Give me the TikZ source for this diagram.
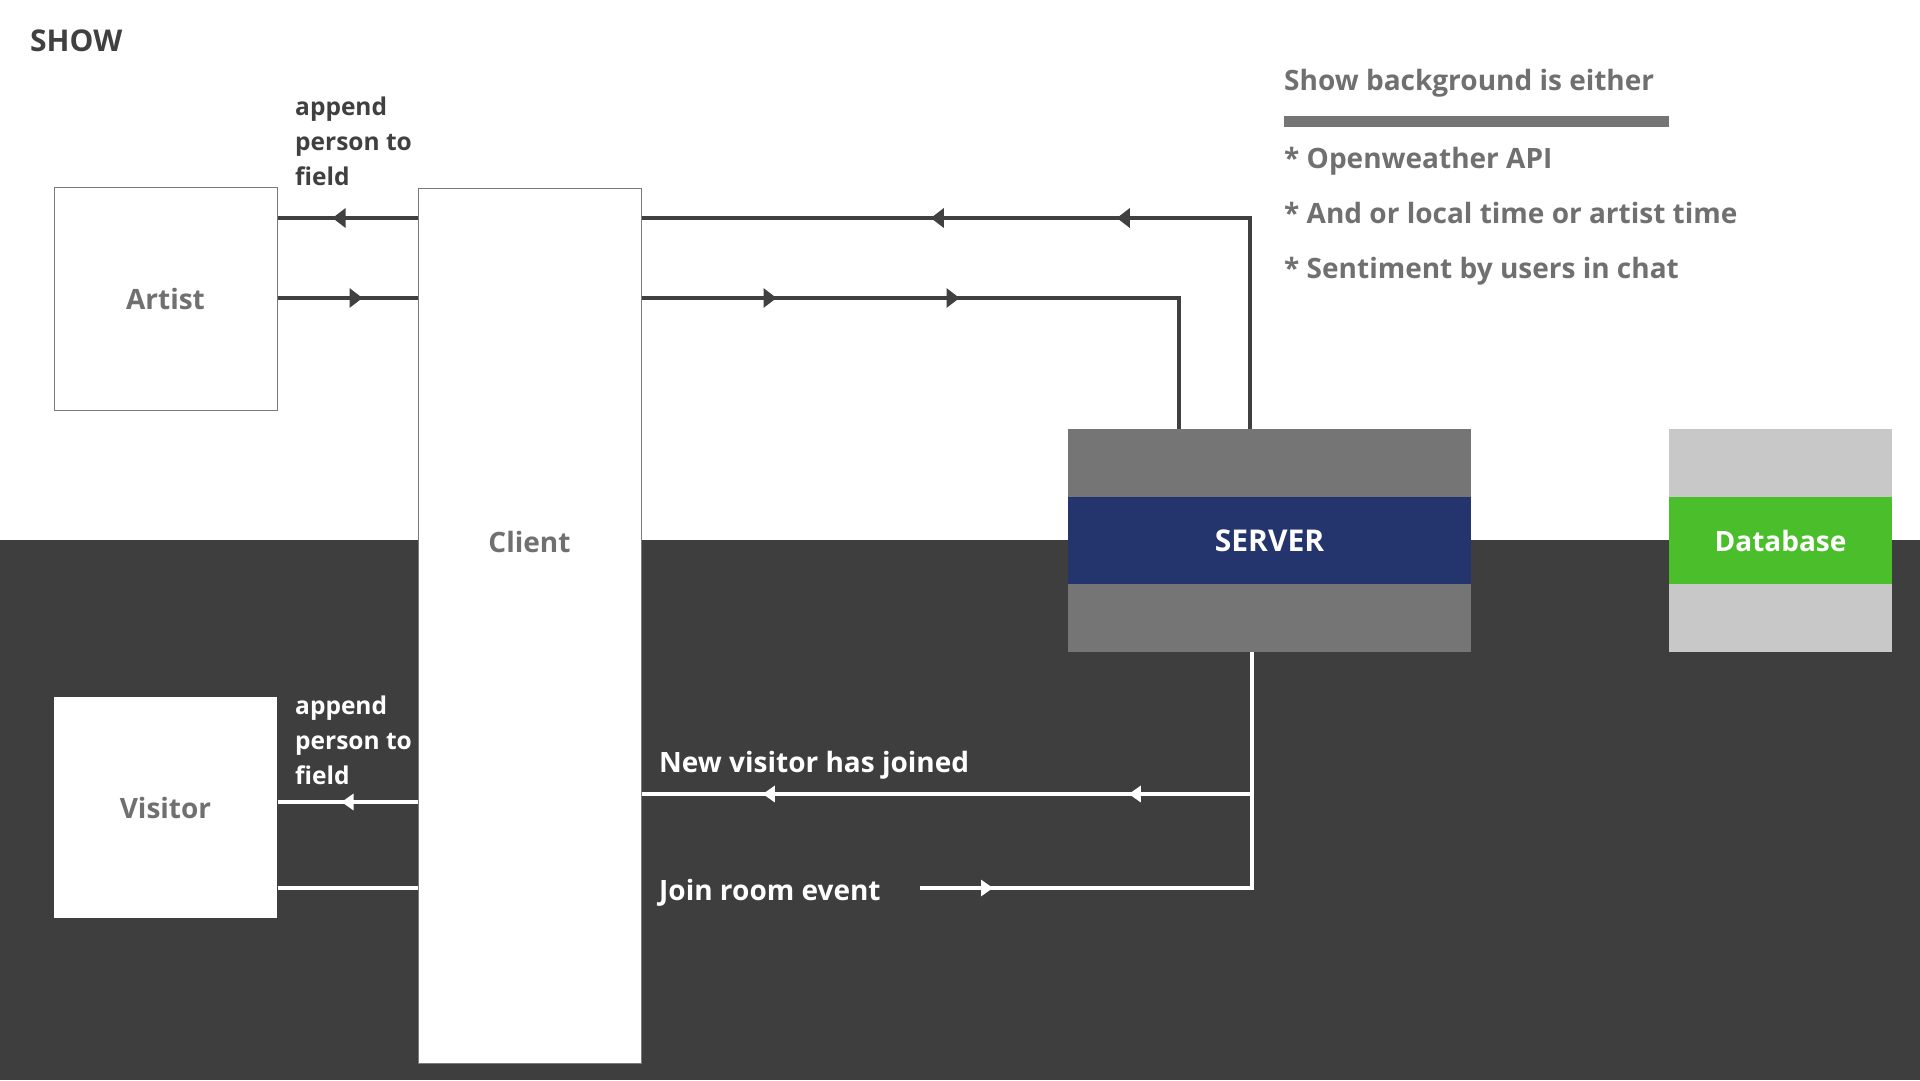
\documentclass[tikz,border=0pt]{standalone}
\usepackage{fontspec}
\setmainfont{Open Sans}
\usetikzlibrary{arrows.meta,decorations.markings,positioning}

\definecolor{bandgray}{HTML}{3E3E3E}
\definecolor{linegray}{HTML}{404040}
\definecolor{txtgray}{HTML}{707070}
\definecolor{srvgray}{HTML}{757575}
\definecolor{srvnavy}{HTML}{24356E}
\definecolor{dbgray}{HTML}{C8C8C8}
\definecolor{dbgreen}{HTML}{4BBF2B}
\definecolor{boxline}{HTML}{7A7A7A}

\begin{document}
\begin{tikzpicture}[x=1pt,y=-1pt,
   font=\bfseries\fontsize{28}{34}\selectfont,
   box/.style={draw=boxline,line width=1pt,fill=white,minimum width=223pt,minimum height=223pt,inner sep=0pt,text=txtgray},
   dk/.style={draw=linegray,line width=3.5pt},
   wt/.style={draw=white,line width=3.5pt},
   darr/.style={postaction={decorate,decoration={markings,mark=at position #1 with {\arrow[linegray]{Triangle[length=13pt,width=19pt]}}}}},
   warr/.style={postaction={decorate,decoration={markings,mark=at position #1 with {\arrow[white]{Triangle[length=12pt,width=16pt]}}}}},
   big/.style={font=\bfseries\fontsize{30}{34}\selectfont},
   small/.style={font=\bfseries\fontsize{24.5}{35}\selectfont,anchor=north west,align=left,inner sep=0pt},
   side/.style={font=\bfseries\fontsize{28}{34}\selectfont,text=txtgray,anchor=base west,inner sep=0pt}]
   \useasboundingbox (0,0) rectangle (1920,1080);
   \fill[white] (0,0) rectangle (1920,540);
   \fill[bandgray] (0,540) rectangle (1920,1080);

   \node (artist) [box] at (165.5,298.5) {Artist};
   \node (client) [box,minimum height=875pt] at (529.5,625.5) {};
   \node (clientlbl) [text=txtgray] at (529.5,542) {Client};
   \node (visitor) [box,draw=none,minimum height=221pt] at (165.5,807.5) {Visitor};

   \node (server) [fill=srvgray,minimum width=403pt,minimum height=223pt,inner sep=0pt] at (1269.5,540.5) {};
   \node (srvband) [fill=srvnavy,minimum width=403pt,minimum height=87pt,inner sep=0pt,text=white,big] at (server) {SERVER};
   \node (db) [fill=dbgray,minimum width=223pt,minimum height=223pt,inner sep=0pt] at (1780.5,540.5) {};
   \node (dbband) [fill=dbgreen,minimum width=223pt,minimum height=87pt,inner sep=0pt,text=white] at (db) {Database};

   \coordinate (ya) at (0,218);
   \coordinate (yb) at (0,298);
   \coordinate (yc) at (0,794);
   \coordinate (yd) at (0,802);
   \coordinate (ye) at (0,888);
   \coordinate (xa) at (1250,0);
   \coordinate (xb) at (1179,0);
   \coordinate (xc) at (1252,0);
   \coordinate (joinstart) at (920,888);

   \draw[dk,darr=85pt] (client.west |- ya) -- (artist.east |- ya);
   \draw[dk,darr=85pt] (artist.east |- yb) -- (client.west |- yb);
   \draw[dk,darr=344pt,darr=530pt] (server.north -| xa) -- (xa |- ya) -- (client.east |- ya);
   \draw[dk,darr=135pt,darr=318pt] (client.east |- yb) -- (xb |- yb) -- (server.north -| xb);

   \draw[wt,warr=265pt,warr=631pt] (server.south -| xc) -- (xc |- yc) -- (client.east |- yc);
   \draw[wt,warr=73pt] (joinstart) -- (xc |- ye) -- (xc |- yc);
   \draw[wt,warr=76pt] (client.west |- yd) -- (visitor.east |- yd);
   \draw[wt] (visitor.east |- ye) -- (client.west |- ye);

   \node (show) [anchor=base west,inner sep=0pt,text=linegray,big] at (30,51) {SHOW};
   \node (apptop) [small,text=linegray] at (295,97) {append\\person to\\field};
   \node (appbot) [small,text=white] at (295,696) {append\\person to\\field};
   \node (newvis) [anchor=base west,inner sep=0pt,text=white] at (659,772) {New visitor has joined};
   \node (joinev) [anchor=base west,inner sep=0pt,text=white] at (659,900) {Join room event};

   \node (bghead) [side] at (1284,90) {Show background is either};
   \fill[srvgray] (1284,116) rectangle (1669,127);
   \node (bul1) [side] at (1284,168) {* Openweather API};
   \node (bul2) [side] at (1284,223) {* And or local time or artist time};
   \node (bul3) [side] at (1284,278) {* Sentiment by users in chat};
\end{tikzpicture}
\end{document}
